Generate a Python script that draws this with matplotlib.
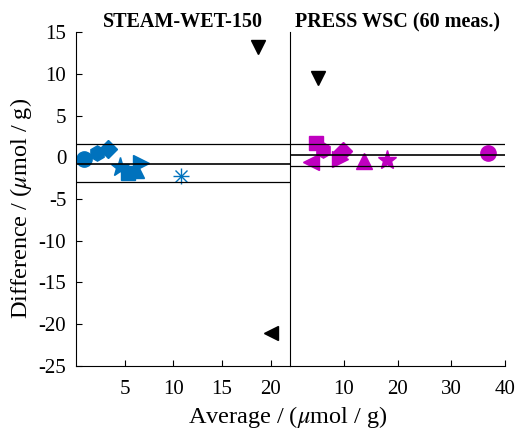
import matplotlib
matplotlib.use('Agg')
import matplotlib.pyplot as plt

# Datos
marcadores = ['o', 'h', 'D', '*', 's', '^', '>', 'ast']

steam_x = [0.85, 2.2, 3.3, 4.5, 5.3, 6.2, 6.7, 10.8]
steam_y = [-0.24, 0.55, 0.96, -1.13, -1.92, -1.5, -0.72, -2.24]
steam_out_x = [18.7, 20.0]
steam_out_y = [13.3, -21.1]
steam_out_m = ['v', '<']
steam_lineas = [1.56, -0.80, -3.0]

press_m = ['s', 'h', '<', 'D', '>', '^', '*', 'o']
press_x = [4.8, 6.1, 3.95, 9.9, 9.25, 13.7, 18.1, 36.8]
press_y = [1.68, 0.88, -0.56, 0.8, -0.24, -0.44, -0.32, 0.55]
press_out_x = [5.15]
press_out_y = [9.5]
press_lineas = [1.63, 0.28, -1.08]

azul = '#0072BD'
magenta = '#BF00BF'

plt.rcParams['font.family'] = ['Liberation Serif', 'DejaVu Serif']
plt.rcParams['mathtext.fontset'] = 'stix'
plt.rcParams['axes.unicode_minus'] = False

fig = plt.figure(figsize=(5.17, 4.32), dpi=100)
ax1 = fig.add_axes([0.147, 0.1535, 0.414, 0.7715])
ax2 = fig.add_axes([0.561, 0.1535, 0.416, 0.7715])

tam = {'o': 11, 'h': 11, 'D': 9, '*': 14, 's': 10, '^': 11, '>': 11, '<': 11, 'v': 10}

for x, y, m in zip(steam_x, steam_y, marcadores):
    if m == 'ast':
        ax1.plot(x, y, marker='+', color=azul, ms=11, mew=1.0, ls='none')
        ax1.plot(x, y, marker='x', color=azul, ms=8, mew=1.0, ls='none')
    else:
        ax1.plot(x, y, marker=m, color=azul, ms=tam[m], ls='none')
for x, y, m in zip(steam_out_x, steam_out_y, steam_out_m):
    ax1.plot(x, y, marker=m, color='black', ms=10, ls='none')
for i, v in enumerate(steam_lineas):
    ax1.axhline(v, color='black', lw=1.2 if i == 1 else 0.9)

for x, y, m in zip(press_x, press_y, press_m):
    ax2.plot(x, y, marker=m, color=magenta, ms=tam[m], ls='none')
for x, y in zip(press_out_x, press_out_y):
    ax2.plot(x, y, marker='v', color='black', ms=10, ls='none')
for i, v in enumerate(press_lineas):
    ax2.axhline(v, color='black', lw=1.2 if i == 1 else 0.9)

for ax in (ax1, ax2):
    ax.set_ylim(-25, 15)
    ax.spines['top'].set_visible(False)
    ax.spines['right'].set_visible(False)
    ax.tick_params(direction='in', labelsize=15, length=4, width=0.8)
    ax.tick_params(axis='x', pad=10)

ax1.set_xlim(0, 22)
ax1.set_xticks([5, 10, 15, 20])
ax1.set_yticks(range(-25, 16, 5))
ax1.tick_params(axis='y', pad=7)
ax2.set_xlim(0, 40)
ax2.set_xticks([10, 20, 30, 40])
ax2.tick_params(axis='y', left=False, labelleft=False)

ax1.set_title('STEAM-WET-150', fontsize=14.5, fontweight='bold', pad=3)
ax2.set_title('PRESS WSC (60 meas.)', fontsize=14.5, fontweight='bold', pad=3)

fig.text(0.04, 0.518, 'Difference / ($\\mu$mol / g)', fontsize=17.5,
         rotation=90, ha='center', va='center')
fig.text(0.557, 0.02, 'Average / ($\\mu$mol / g)', fontsize=17.5, ha='center')

plt.savefig('out.png', dpi=100)
